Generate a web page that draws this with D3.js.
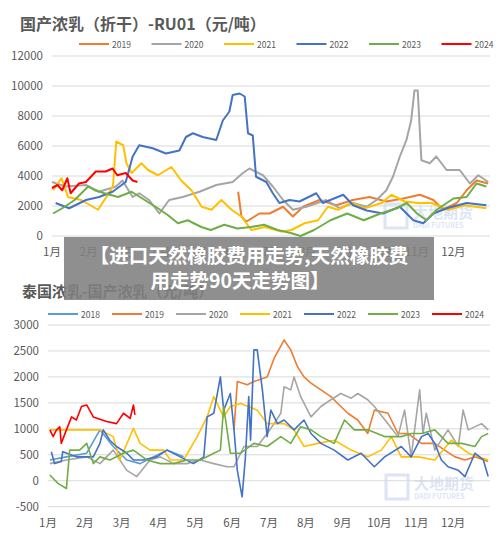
<!DOCTYPE html>
<html><head><meta charset="utf-8">
<script src="https://cdn.jsdelivr.net/npm/d3@7"></script>
<style>body{margin:0;background:#fff}svg{display:block;font-family:"Noto Sans CJK SC","Noto Sans",sans-serif}</style>
</head><body><svg id="c" width="500" height="537"></svg>
<script>
// month labels shared by both panels
const months = ["1月","2月","3月","4月","5月","6月","7月","8月","9月","10月","11月","12月"]
const colors = {"2018":"#5B9BD5","2019":"#ED7D31","2020":"#A5A5A5","2021":"#FFC000","2022":"#4472C4","2023":"#70AD47","2024":"#FF0000"}

// top panel: 国产浓乳(折干)-RU01, [month position, value]
const top2019 = [[5.1,2950],[5.19,1300],[5.32,950],[5.68,1500],[5.96,1500],[6.33,1950],[6.6,1300],[6.88,1950],[7.33,2400],[7.79,2050],[8.24,2400],[8.7,2600],[9.16,2300],[9.62,2500],[10.08,2750],[10.45,2400],[10.72,1750],[11.09,2200],[11.36,3050],[11.63,3700],[11.95,3500]]
const top2020 = [[0,3600],[0.37,3300],[0.93,3400],[1.29,2950],[1.75,3300],[1.93,3700],[2.21,2600],[2.39,2850],[2.66,2400],[2.94,1500],[3.21,2400],[3.58,2600],[4.04,2950],[4.5,3400],[4.95,3600],[5.23,4200],[5.41,4500],[5.78,4050],[6.05,3300],[6.33,2400],[6.6,1750],[6.97,1950],[7.51,2400],[7.88,1850],[8.25,2200],[8.62,1950],[8.89,2400],[9.16,3050],[9.34,3950],[9.53,5300],[9.71,6400],[9.84,7700],[9.93,9700],[10.02,9700],[10.12,5050],[10.35,4850],[10.53,5300],[10.81,4400],[11.17,4400],[11.45,3500],[11.68,4050],[11.95,3600]]
const top2021 = [[0.03,3050],[0.26,3850],[0.44,2600],[0.8,2400],[1.26,1750],[1.53,2750],[1.67,3300],[1.76,6300],[1.95,6050],[2.04,4850],[2.18,4200],[2.45,4850],[2.63,4400],[2.9,4050],[3.27,4600],[3.54,3700],[3.82,3050],[4.1,1950],[4.37,1750],[4.64,2400],[4.92,1750],[5.19,1300],[5.46,400],[5.83,600],[6.29,300],[6.56,400],[6.92,850],[7.29,1050],[7.56,1950],[7.84,1750],[8.2,2200],[8.57,1850],[9.03,2200],[9.3,2750],[9.66,2300],[10.03,2200],[10.4,2200],[10.85,1750],[11.3,2050],[11.9,1850]]
const top2022 = [[0.1,2200],[0.47,1850],[0.93,2400],[1.29,2600],[1.66,2950],[2.02,3600],[2.21,5300],[2.39,6050],[2.76,5850],[3.12,5500],[3.49,5700],[3.67,6600],[3.86,6850],[4.13,6600],[4.5,6400],[4.68,7700],[4.86,8300],[4.95,9400],[5.14,9500],[5.28,9300],[5.37,6850],[5.5,6700],[5.59,3950],[5.87,3600],[6.05,2850],[6.23,2200],[6.51,2400],[6.78,2300],[7.24,2850],[7.42,2200],[7.98,2750],[8.25,2050],[8.62,1700],[9.07,1500],[9.53,1950],[9.9,1050],[10.17,850],[10.45,1500],[10.81,1850],[11.36,2200],[11.9,2050]]
const top2023 = [[0.03,1500],[0.35,1950],[0.62,2400],[0.99,3300],[1.17,3050],[1.44,2850],[1.81,2600],[2.18,2950],[2.54,2400],[2.9,1850],[3.17,1400],[3.45,850],[3.72,1050],[4.09,600],[4.35,400],[4.72,750],[5.08,500],[5.45,600],[5.81,750],[6.18,400],[6.54,200],[6.81,0],[7.18,400],[7.63,1050],[8.09,1500],[8.54,1050],[9.0,1500],[9.45,1850],[9.72,2200],[10.0,1500],[10.26,1050],[10.54,1750],[11.0,2500],[11.36,2600],[11.63,3500],[11.9,3300]]
const top2024 = [[0,3200],[0.15,3400],[0.28,3050],[0.42,3850],[0.51,2850],[0.74,3500],[0.93,3600],[1.2,4300],[1.47,4300],[1.66,4500],[1.79,4050],[2.02,4200],[2.21,3700],[2.34,3600]]
const topTicks = [0,2000,4000,6000,8000,10000,12000]

// bottom panel: 泰国浓乳-国产浓乳
const bot2018 = [[0.05,400],[0.5,460],[1.05,530],[1.41,980],[1.77,660],[2.14,400],[2.5,330],[2.86,460],[3.23,590],[3.68,460]]
const bot2019 = [[5.05,980],[5.14,1910],[5.41,1850],[5.59,1910],[5.95,2000],[6.14,2360],[6.41,2710],[6.59,2520],[6.77,2200],[6.95,2000],[7.14,1880],[7.41,1750],[7.68,1620],[7.95,1430],[8.14,1300],[8.41,1170],[8.68,910],[8.86,1360],[9.23,1300],[9.5,910],[9.77,910],[10.14,720],[10.5,720],[10.77,590],[11.05,460],[11.32,400],[11.59,460],[11.95,370]]
const bot2020 = [[0.05,330],[0.5,400],[1.05,460],[1.41,330],[1.77,590],[2.14,200],[2.41,80],[2.77,400],[3.05,460],[3.41,330],[3.77,330],[4.14,400],[4.5,330],[4.86,270],[5.05,270],[5.32,660],[5.68,660],[5.95,910],[6.14,1100],[6.32,1300],[6.41,1810],[6.59,1750],[6.68,2000],[6.86,1620],[7.14,1230],[7.41,1430],[7.68,1560],[7.95,1680],[8.23,1590],[8.41,1680],[8.68,1560],[8.86,1430],[9.23,1100],[9.5,850],[9.68,1360],[9.86,460],[10.09,1750],[10.18,910],[10.27,1300],[10.5,590],[10.86,980],[11.14,660],[11.27,1360],[11.41,980],[11.77,1100],[11.95,980]]
const bot2021 = [[0.05,980],[0.5,980],[1.41,980],[1.77,850],[1.95,400],[2.32,1010],[2.5,720],[2.77,590],[3.14,590],[3.32,400],[3.68,400],[4.05,850],[4.32,1230],[4.5,1620],[4.59,1490],[4.77,1230],[4.95,1430],[5.23,1490],[5.68,1360],[5.95,1100],[6.41,1100],[6.68,980],[6.95,660],[7.32,720],[7.77,780],[8.23,590],[8.68,460],[9.05,590],[9.32,850],[9.59,460],[10.05,460],[10.5,400],[10.95,780],[11.41,530],[11.95,400]]
const bot2022 = [[0.09,560],[0.18,330],[0.36,370],[0.4,560],[0.77,460],[1.23,460],[1.41,720],[1.5,980],[1.68,780],[1.86,660],[2.14,530],[2.32,400],[2.59,400],[2.95,460],[3.23,590],[3.59,460],[3.95,330],[4.23,460],[4.32,1230],[4.5,1300],[4.68,2000],[4.77,1360],[4.95,1680],[5.05,980],[5.14,200],[5.27,-310],[5.36,460],[5.45,1620],[5.5,780],[5.59,2520],[5.68,2520],[5.82,1750],[5.95,850],[6.05,1360],[6.23,1100],[6.41,1170],[6.68,980],[6.95,1170],[7.14,910],[7.41,720],[7.77,590],[8.14,400],[8.5,530],[8.86,270],[9.14,460],[9.59,660],[9.86,460],[10.14,850],[10.32,910],[10.5,720],[10.68,400],[10.86,270],[11.14,200],[11.32,80],[11.59,530],[11.82,400],[11.95,80]]
const bot2023 = [[0.05,110],[0.27,-50],[0.5,-150],[0.59,590],[0.86,590],[1.05,720],[1.23,330],[1.41,460],[1.68,400],[2.05,530],[2.32,590],[2.68,400],[3.05,330],[3.41,330],[3.77,400],[4.14,400],[4.5,530],[4.68,590],[4.77,1430],[4.95,530],[5.23,530],[5.59,720],[5.95,660],[6.32,850],[6.59,720],[6.86,1040],[7.14,980],[7.41,850],[7.77,720],[8.05,1170],[8.32,980],[8.68,980],[9.14,850],[9.59,850],[9.86,910],[10.14,910],[10.5,980],[10.86,720],[11.23,720],[11.59,660],[11.77,850],[11.95,910]]
const bot2024 = [[0.05,980],[0.14,850],[0.23,980],[0.32,1040],[0.36,720],[0.5,980],[0.64,1230],[0.77,1170],[0.91,1430],[1.05,1460],[1.23,1230],[1.59,1140],[1.86,1100],[2.05,1300],[2.23,1200],[2.32,1460],[2.36,1270]]
const botTicks = [-500,0,500,1000,1500,2000,2500,3000]

const svg = d3.select("#c")

function panel(opt){
  const g = svg.append("g")
  const x = d3.scaleLinear().domain([0,12]).range([opt.x0, opt.x1])
  const y = d3.scaleLinear().domain(opt.domain).range([opt.y0, opt.y1])

  g.append("text").attr("x",opt.titleX).attr("y",opt.titleY).text(opt.title)
    .attr("font-size",opt.titleSize).attr("font-weight","bold").attr("fill","#595959")

  // gridlines + y labels
  g.selectAll(".grid").data(opt.ticks).enter().append("line")
    .attr("x1",opt.x0).attr("x2",opt.x1).attr("y1",d=>y(d)).attr("y2",d=>y(d))
    .attr("stroke","#d9d9d9").attr("stroke-width",1)
  g.selectAll(".yl").data(opt.ticks).enter().append("text")
    .attr("x",opt.x0-9).attr("y",d=>y(d)+4).attr("text-anchor","end")
    .attr("font-size",11.5).attr("fill","#595959").text(d=>d)
  g.selectAll(".xl").data(months).enter().append("text")
    .attr("x",(d,i)=>x(i)).attr("y",opt.labelY).attr("text-anchor","middle")
    .attr("font-size",11.5).attr("fill","#595959").text(d=>d)

  // legend
  opt.series.forEach((s,i)=>{
    const lx = opt.legX + i*opt.legStep
    g.append("line").attr("x1",lx).attr("x2",lx+30).attr("y1",opt.legY).attr("y2",opt.legY)
      .attr("stroke",colors[s.name]).attr("stroke-width",2)
    g.append("text").attr("x",lx+33).attr("y",opt.legY+3.5).attr("font-size",8.5)
      .attr("fill","#595959").text(s.name)
  })

  const line = d3.line().x(d=>x(d[0])).y(d=>y(d[1]))
  opt.series.forEach(s=>{
    g.append("path").datum(s.data).attr("d",line).attr("fill","none")
      .attr("stroke",colors[s.name]).attr("stroke-width",opt.lw).attr("stroke-linejoin","round")
  })
}

// faint watermarks
function mark(xp,yp){
  const g = svg.append("g").attr("opacity",0.18)
  g.append("rect").attr("x",xp).attr("y",yp).attr("width",22).attr("height",24).attr("fill","none").attr("stroke","#4472C4").attr("stroke-width",3)
  g.append("text").attr("x",xp+28).attr("y",yp+14).attr("font-size",15).attr("font-weight","bold").attr("fill","#4472C4").text("大地期货")
  g.append("text").attr("x",xp+28).attr("y",yp+24).attr("font-size",7).attr("font-weight","bold").attr("fill","#4472C4").text("DADI FUTURES")
}
mark(385,204)
mark(386,475)

panel({title:"国产浓乳（折干）-RU01（元/吨）",titleX:20,titleY:30,titleSize:16,x0:52,x1:490,y0:236,y1:56,domain:[0,12000],
  ticks:topTicks,labelY:256,legX:79,legStep:72.5,legY:44,lw:2,
  series:[{name:"2019",data:top2019},{name:"2020",data:top2020},{name:"2021",data:top2021},{name:"2022",data:top2022},{name:"2023",data:top2023},{name:"2024",data:top2024}]})

panel({title:"泰国浓乳-国产浓乳（元/吨）",titleX:22,titleY:297,titleSize:15,x0:48,x1:490,y0:506.7,y1:325,domain:[-500,3000],
  ticks:botTicks,labelY:527,legX:48,legStep:64,legY:314,lw:1.6,
  series:[{name:"2018",data:bot2018},{name:"2019",data:bot2019},{name:"2020",data:bot2020},{name:"2021",data:bot2021},{name:"2022",data:bot2022},{name:"2023",data:bot2023},{name:"2024",data:bot2024}]})

// caption banner over the middle
svg.append("rect").attr("x",64).attr("y",237).attr("width",370).attr("height",63).attr("fill","#808080").attr("opacity",0.88)
svg.append("text").attr("x",249).attr("y",263).attr("text-anchor","middle").attr("font-size",19.5).attr("font-weight","bold").attr("fill","#fff").text("【进口天然橡胶费用走势,天然橡胶费")
svg.append("text").attr("x",240).attr("y",288).attr("text-anchor","middle").attr("font-size",19.5).attr("font-weight","bold").attr("fill","#fff").text("用走势90天走势图】")
</script></body></html>
